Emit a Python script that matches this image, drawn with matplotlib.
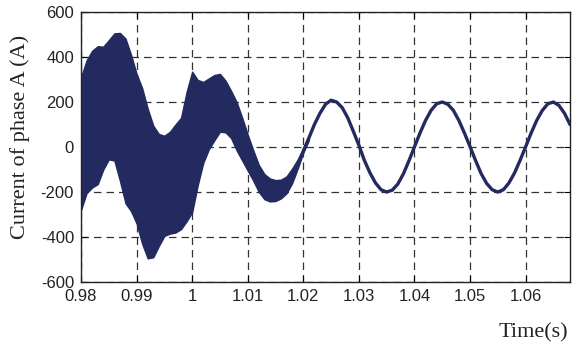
import numpy as np
import matplotlib
matplotlib.use('Agg')
import matplotlib.pyplot as plt
from matplotlib.ticker import FixedLocator, FuncFormatter

# transient part: envelope of the dense ripple, sampled every 1 ms
t_env = [0.980, 0.981, 0.982, 0.983, 0.984, 0.985, 0.986, 0.987, 0.988, 0.989,
         0.990, 0.991, 0.992, 0.993, 0.994, 0.995, 0.996, 0.997, 0.998, 0.999,
         1.000, 1.001, 1.002, 1.003, 1.004, 1.005, 1.006, 1.007, 1.008, 1.009,
         1.010, 1.011, 1.012, 1.013, 1.014, 1.015, 1.016, 1.017, 1.018, 1.019,
         1.020, 1.021]
i_upper = [311, 385, 428, 448, 446, 475, 505, 507, 482, 410,
           325, 262, 170, 95, 58, 50, 68, 100, 130, 245,
           335, 298, 289, 305, 320, 325, 295, 250, 200, 130,
           55, -15, -80, -120, -140, -147, -145, -130, -95, -55,
           -10, 50]
i_lower = [-280, -205, -180, -165, -100, -55, -60, -150, -250, -285,
           -340, -430, -495, -490, -440, -395, -385, -380, -365, -330,
           -290, -170, -70, -10, 30, 68, 65, 40, -15, -60,
           -105, -150, -200, -232, -242, -240, -228, -205, -160, -95,
           -25, 30]

# steady-state part of phase A current
t_ss = [1.019, 1.020, 1.021, 1.022, 1.023, 1.024, 1.025, 1.026, 1.027, 1.028,
        1.029, 1.030, 1.031, 1.032, 1.033, 1.034, 1.035, 1.036, 1.037, 1.038,
        1.039, 1.040, 1.041, 1.042, 1.043, 1.044, 1.045, 1.046, 1.047, 1.048,
        1.049, 1.050, 1.051, 1.052, 1.053, 1.054, 1.055, 1.056, 1.057, 1.058,
        1.059, 1.060, 1.061, 1.062, 1.063, 1.064, 1.065, 1.066, 1.067, 1.068]
i_ss = [-75, -18, 40, 100, 150, 190, 208, 200, 175, 130,
        70, 8, -60, -115, -160, -190, -200, -192, -165, -120,
        -62, 0, 62, 118, 163, 192, 200, 190, 163, 118,
        62, 2, -60, -118, -162, -190, -200, -190, -160, -116,
        -60, 0, 62, 118, 162, 192, 200, 185, 150, 100]

x_ticks = [0.98, 0.99, 1.00, 1.01, 1.02, 1.03, 1.04, 1.05, 1.06]
y_ticks = [-600, -400, -200, 0, 200, 400, 600]

line_color = '#232a60'


def main():
    plt.rcParams['axes.unicode_minus'] = False
    fig = plt.figure(figsize=(5.73, 3.53), dpi=100)
    ax = fig.add_axes([0.1414, 0.2011, 0.8534, 0.7649])
    ax.set_axisbelow(True)

    ax.fill_between(t_env, i_lower, i_upper, color=line_color, linewidth=1.0,
                    edgecolor=line_color, zorder=2)
    ax.plot(t_ss, i_ss, color=line_color, linewidth=2.4, solid_joinstyle='round',
            solid_capstyle='round', zorder=2)

    ax.set_xlim(0.98, 1.068)
    ax.set_ylim(-600, 600)
    ax.xaxis.set_major_locator(FixedLocator(x_ticks))
    ax.yaxis.set_major_locator(FixedLocator(y_ticks))
    ax.xaxis.set_major_formatter(FuncFormatter(lambda v, p: f'{v:g}'))
    ax.yaxis.set_major_formatter(FuncFormatter(lambda v, p: f'{v:g}'))

    ax.grid(True, color='#333333', linestyle=(0, (6, 4)), linewidth=0.9)
    ax.tick_params(direction='in', length=4, width=0.8, top=True, right=True,
                   labelsize=12, labelcolor='#222222', pad=5)
    for lab in ax.get_xticklabels() + ax.get_yticklabels():
        lab.set_family('Liberation Sans')
    for sp in ax.spines.values():
        sp.set_linewidth(1.0)
        sp.set_color('#222222')

    fig.text(0.035, 0.612, 'Current of phase A (A)', rotation=90, ha='center',
             va='center', fontsize=16, family='Liberation Serif', color='#222222')
    fig.text(0.930, 0.0567, 'Time(s)', ha='center', va='center', fontsize=16,
             family='Liberation Serif', color='#222222')

    fig.savefig('out.png', dpi=100)


if __name__ == '__main__':
    main()
